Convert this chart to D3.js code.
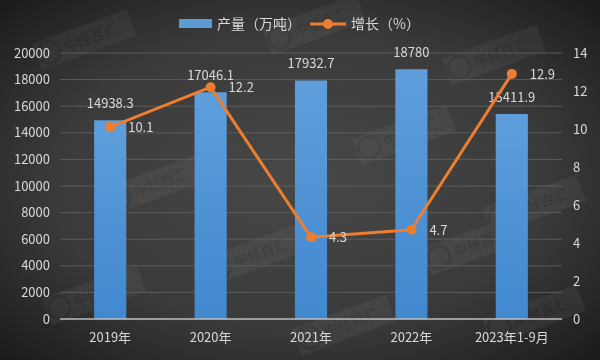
<!DOCTYPE html>
<html>
<head>
<meta charset="utf-8">
<script src="https://cdn.jsdelivr.net/npm/d3@7"></script>
<style>
  html, body { margin: 0; padding: 0; background: #2b2b2b; }
  svg text { font-family: "Noto Sans CJK SC", "Noto Sans", sans-serif; }
</style>
</head>
<body>
<div id="chart_wrapper"></div>
<script>
var categories = ["2019年", "2020年", "2021年", "2022年", "2023年1-9月"];
var output = [14938.3, 17046.1, 17932.7, 18780, 15411.9];
var growth = [10.1, 12.2, 4.3, 4.7, 12.9];
var leftTicks = [0, 2000, 4000, 6000, 8000, 10000, 12000, 14000, 16000, 18000, 20000];
var rightTicks = [0, 2, 4, 6, 8, 10, 12, 14];

var wrapperWidth = 600,
    wrapperHeight = 360;

var margin = { left: 60, right: 38, top: 53, bottom: 41 };
var width = wrapperWidth - margin.left - margin.right;
var height = wrapperHeight - margin.top - margin.bottom;

var root = d3.select("#chart_wrapper").append("svg")
    .attr("width", wrapperWidth).attr("height", wrapperHeight);

// background vignette
var defs = root.append("defs");
var bg = defs.append("radialGradient").attr("id", "bg")
    .attr("cx", "50%").attr("cy", "50%").attr("r", "75%");
bg.append("stop").attr("offset", "0%").attr("stop-color", "#484848");
bg.append("stop").attr("offset", "55%").attr("stop-color", "#3a3a3a");
bg.append("stop").attr("offset", "100%").attr("stop-color", "#161616");

var barGrad = defs.append("linearGradient").attr("id", "barGrad")
    .attr("x1", 0).attr("y1", 0).attr("x2", 0).attr("y2", 1);
barGrad.append("stop").attr("offset", "0%").attr("stop-color", "#5e9edb");
barGrad.append("stop").attr("offset", "100%").attr("stop-color", "#4188cf");

root.append("rect").attr("width", wrapperWidth).attr("height", wrapperHeight).attr("fill", "url(#bg)");

// faint watermarks
var marks = [[70, 45], [300, 30], [480, 60], [140, 190], [390, 140], [520, 210], [80, 300], [330, 330], [520, 320], [240, 260], [460, 250]];
var wm = root.append("g").attr("opacity", 0.05);
marks.forEach(function(m) {
  var g = wm.append("g").attr("transform", "translate(" + m[0] + "," + m[1] + ") rotate(-20)");
  g.append("rect").attr("x", -35).attr("y", -14).attr("width", 100).attr("height", 28).attr("fill", "#ffffff");
  g.append("circle").attr("cx", -22).attr("cy", 0).attr("r", 11).attr("fill", "none").attr("stroke", "#2b7bc0").attr("stroke-width", 3);
  g.append("text").attr("x", -6).attr("y", 5).attr("font-size", 14).attr("fill", "#000").text("中经百汇");
});

var svg = root.append("g").attr("transform", "translate(" + margin.left + "," + margin.top + ")");

var x = d3.scaleBand().domain(categories).range([0, width]).paddingInner(0.68).paddingOuter(0.34);
var yL = d3.scaleLinear().domain([0, 20000]).range([height, 0]);
var yR = d3.scaleLinear().domain([0, 14]).range([height, 0]);

// gridlines
svg.append("g").selectAll("line").data(leftTicks.slice(1)).enter().append("line")
    .attr("x1", 0).attr("x2", width)
    .attr("y1", function(d) { return yL(d); }).attr("y2", function(d) { return yL(d); })
    .attr("stroke", "#5c5c5c").attr("stroke-width", 1);

// left axis
var axL = svg.append("g").attr("transform", "translate(-10,0)")
    .call(d3.axisLeft(yL).tickValues(leftTicks).tickFormat(d3.format("d")).tickSize(0).tickPadding(0));
axL.select(".domain").remove();
axL.selectAll("text").attr("fill", "#d9d9d9").attr("font-size", 13);

// right axis
var axR = svg.append("g").attr("transform", "translate(" + (width + 11) + ",0)")
    .call(d3.axisRight(yR).tickValues(rightTicks).tickSize(0).tickPadding(0));
axR.select(".domain").remove();
axR.selectAll("text").attr("fill", "#d9d9d9").attr("font-size", 13);

// bars
svg.append("g").selectAll("rect").data(output).enter().append("rect")
    .attr("x", function(d, i) { return x(categories[i]); })
    .attr("width", x.bandwidth())
    .attr("y", function(d) { return yL(d); })
    .attr("height", function(d) { return height - yL(d); })
    .attr("fill", "url(#barGrad)");

// baseline
svg.append("line").attr("x1", 0).attr("x2", width).attr("y1", height).attr("y2", height)
    .attr("stroke", "#bfbfbf").attr("stroke-width", 1.5);

// category labels
var axB = svg.append("g").attr("transform", "translate(0," + height + ")")
    .call(d3.axisBottom(x).tickSize(0).tickPadding(14));
axB.select(".domain").remove();
axB.selectAll("text").attr("fill", "#d9d9d9").attr("font-size", 13);

// bar value labels
svg.append("g").selectAll("text").data(output).enter().append("text")
    .attr("x", function(d, i) { return x(categories[i]) + x.bandwidth() / 2; })
    .attr("y", function(d) { return yL(d) - 12; })
    .attr("text-anchor", "middle").attr("fill", "#d9d9d9").attr("font-size", 13)
    .text(function(d) { return d; });

// line
var cx = function(d, i) { return x(categories[i]) + x.bandwidth() / 2; };
var line = d3.line().x(cx).y(function(d) { return yR(d); });
svg.append("path").datum(growth).attr("d", line)
    .attr("fill", "none").attr("stroke", "#ed7d31").attr("stroke-width", 3).attr("stroke-linejoin", "round");
svg.append("g").selectAll("circle").data(growth).enter().append("circle")
    .attr("cx", cx).attr("cy", function(d) { return yR(d); }).attr("r", 5)
    .attr("fill", "#ed7d31");
svg.append("g").selectAll("text").data(growth).enter().append("text")
    .attr("x", function(d, i) { return cx(d, i) + 18; })
    .attr("y", function(d) { return yR(d) + 5; })
    .attr("fill", "#d9d9d9").attr("font-size", 13)
    .text(function(d) { return d; });

// legend
var lg = root.append("g");
lg.append("rect").attr("x", 179).attr("y", 19).attr("width", 33).attr("height", 9).attr("fill", "#5b9bd5");
lg.append("text").attr("x", 217).attr("y", 29).attr("fill", "#d9d9d9").attr("font-size", 14).text("产量（万吨）");
lg.append("line").attr("x1", 310).attr("x2", 346).attr("y1", 24).attr("y2", 24)
    .attr("stroke", "#ed7d31").attr("stroke-width", 3);
lg.append("circle").attr("cx", 328).attr("cy", 24).attr("r", 5).attr("fill", "#ed7d31");
lg.append("text").attr("x", 351).attr("y", 29).attr("fill", "#d9d9d9").attr("font-size", 14).text("增长（%）");
</script>
</body>
</html>
